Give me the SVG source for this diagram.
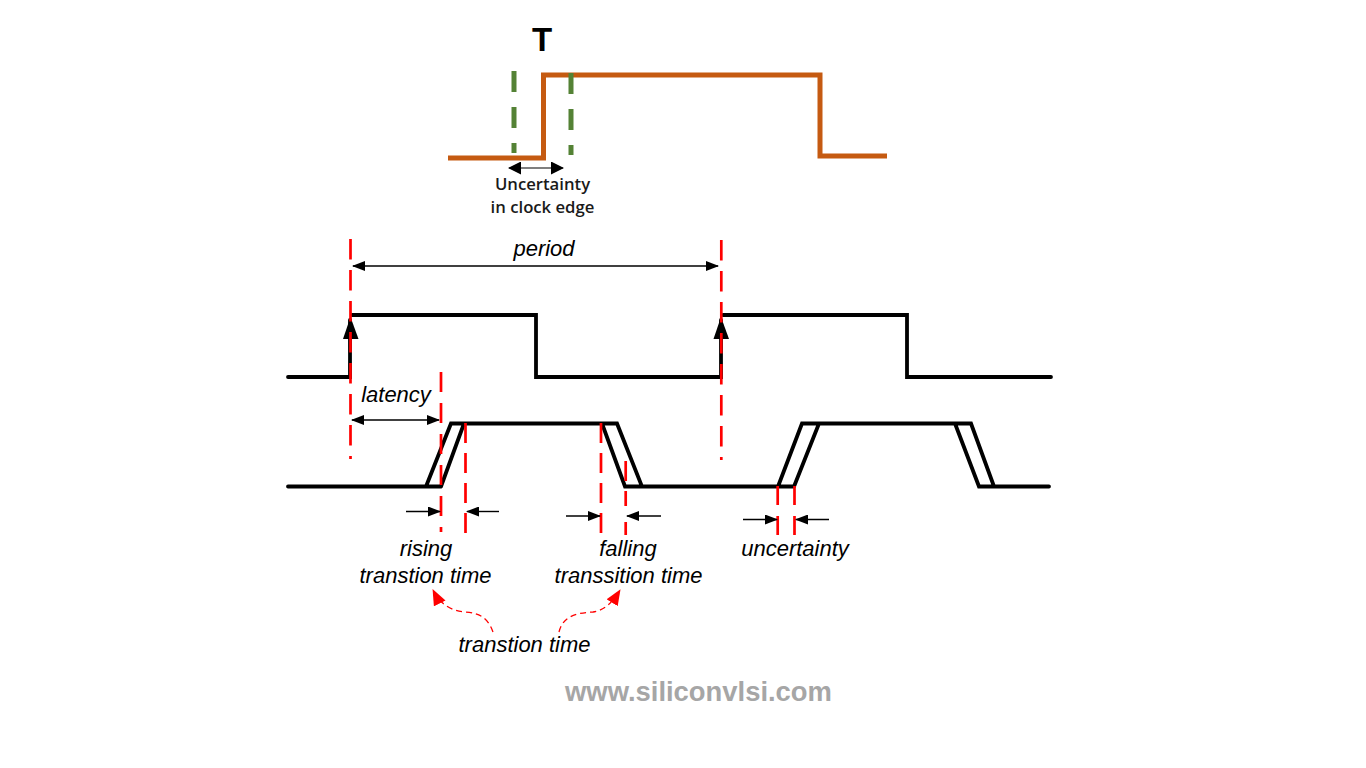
<svg xmlns="http://www.w3.org/2000/svg" width="1366" height="768" viewBox="0 0 1366 768">
<style>
.wave{fill:none;stroke:#000;stroke-width:3.8;stroke-linejoin:miter;stroke-linecap:round}
.orange{fill:none;stroke:#c55a11;stroke-width:5;stroke-linejoin:miter}
.green{fill:none;stroke:#548235;stroke-width:5}
.red{fill:none;stroke:#f00;stroke-width:2.700}
.dim{fill:none;stroke:#000;stroke-width:1.400}
.curve{fill:none;stroke:#f00;stroke-width:1.300;stroke-dasharray:6 4}
.lbl{font-family:"Liberation Sans",Arial,sans-serif;font-style:italic;font-size:22px;fill:#000;text-anchor:middle}
.cap{font-family:"Open Sans","Noto Sans",sans-serif;font-weight:600;font-size:16.700px;fill:#1a1a1a;text-anchor:middle}
</style>
<defs>
<marker id="ah" markerWidth="13" markerHeight="10" refX="12" refY="5" orient="auto-start-reverse" markerUnits="userSpaceOnUse"><path d="M0 0L13 5L0 10Z" fill="#000"/></marker>
<marker id="ahb" markerWidth="13" markerHeight="13" refX="12" refY="6.500" orient="auto-start-reverse" markerUnits="userSpaceOnUse"><path d="M0 0L13 6.500L0 13Z" fill="#000"/></marker>
<marker id="ahr" markerWidth="16" markerHeight="13" refX="15" refY="6.500" orient="auto" markerUnits="userSpaceOnUse"><path d="M0 0L16 6.500L0 13Z" fill="#f00"/></marker>
</defs>
<rect width="1366" height="768" fill="#fff"/>

<g id="clock-edge-wave">
<path class="orange" d="M448 158H543.500V75H820V156H887"/>
<path class="green" d="M514 71V153" stroke-dasharray="21 15"/>
<path class="green" d="M571 73V155" stroke-dasharray="21 15"/>
</g>
<g id="clock-wave">
<path class="wave" d="M288 377H350V320M352 315H536V377H721V320M723 315H907V377H1051"/>
<path d="M350.500 317L358.500 339H343Z" fill="#000"/>
<path d="M721 317L729 339H713.500Z" fill="#000"/>
</g>
<g id="delayed-wave">
<path class="wave" d="M288 486.500H426L451 423.500H617L642 486.500H625L602 423.500M642 486.500H778L802 423.500H971L994 486.500H1049M441 486.500L464 423.500M794 486.500H778M794 486.500L819 423.500M955 423.500L979 486.500H994M426 486.500H441"/>
</g>
<g id="guides">
<path class="red" d="M350.500 239V459" stroke-dasharray="20.600 10.400"/>
<path class="red" d="M721.300 240V460" stroke-dasharray="20.600 10.400"/>
<path class="red" d="M441 372V532" stroke-dasharray="20 11"/>
<path class="red" d="M465.500 423V534" stroke-dasharray="20 10"/>
<path class="red" d="M601 423V534" stroke-dasharray="20 10"/>
<path class="red" d="M625.700 461V535" stroke-dasharray="20 10 15 16 13 10"/>
<path class="red" d="M777.700 486V536" stroke-dasharray="19 11"/>
<path class="red" d="M794.500 486V536" stroke-dasharray="19 11"/>
</g>
<g id="connectors">
<path d="M509 168H563" fill="none" stroke="#000" stroke-width="1.200" marker-start="url(#ahb)" marker-end="url(#ahb)"/>
<path class="dim" d="M353 266H718" marker-start="url(#ah)" marker-end="url(#ah)"/>
<path class="dim" d="M352 420H439" marker-start="url(#ah)" marker-end="url(#ah)"/>
<path class="dim" d="M406 511.500H440" marker-end="url(#ah)"/>
<path class="dim" d="M499 511.500H467" marker-end="url(#ah)"/>
<path class="dim" d="M566 516H600" marker-end="url(#ah)"/>
<path class="dim" d="M661 516H627" marker-end="url(#ah)"/>
<path class="dim" d="M743 519.500H777" marker-end="url(#ah)"/>
<path class="dim" d="M829 519.500H796" marker-end="url(#ah)"/>
<path class="curve" d="M493 632C488 618 480 613 465 612C453 611 441 606 433 590" marker-end="url(#ahr)"/>
<path class="curve" d="M559 632C562 620 570 613 593 612C605 610 612 603 620 590" marker-end="url(#ahr)"/>
</g>
<g id="labels">
<text x="542" y="51" font-family="'Liberation Sans',Arial,sans-serif" font-weight="700" font-size="33" text-anchor="middle" fill="#000">T</text>
<text class="cap" x="542.500" y="190">Uncertainty</text>
<text class="cap" x="542.500" y="213">in clock edge</text>
<text class="lbl" x="544" y="256">period</text>
<text class="lbl" x="396" y="402">latency</text>
<text class="lbl" x="426" y="556">rising</text>
<text class="lbl" x="425.500" y="583">transtion time</text>
<text class="lbl" x="628" y="556">falling</text>
<text class="lbl" x="628.500" y="583">transsition time</text>
<text class="lbl" x="795" y="556">uncertainty</text>
<text class="lbl" x="524.500" y="652">transtion time</text>
<text x="698.500" y="701" font-family="'Liberation Sans',Arial,sans-serif" font-weight="700" font-size="27.400" text-anchor="middle" fill="#a6a6a6">www.siliconvlsi.com</text>
</g>
</svg>
